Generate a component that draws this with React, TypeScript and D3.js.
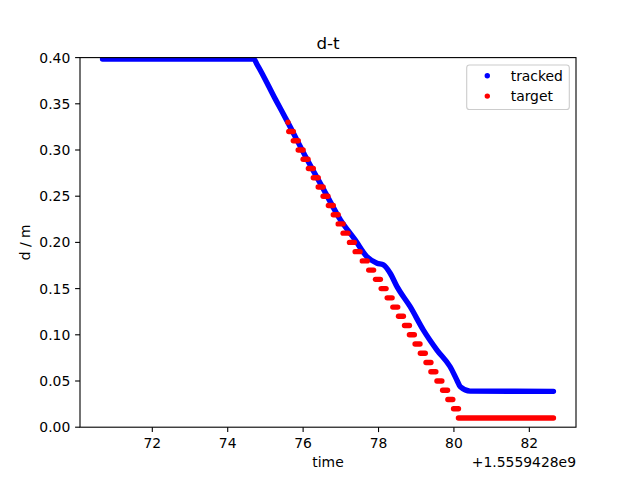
import React from "react";
import * as d3 from "d3";

// ---- data ----
const trackedT = [70.68, 74.69, 74.78, 75.27, 75.58, 76.11, 76.55, 76.99, 77.38, 77.69, 77.96, 78.13, 78.31, 78.49, 78.84, 79.19, 79.55, 79.90, 80.08, 80.17, 80.43, 82.64];
const trackedD = [0.3984, 0.3984, 0.3925, 0.3545, 0.3310, 0.2894, 0.2569, 0.2244, 0.2027, 0.1846, 0.1775, 0.1756, 0.1666, 0.1521, 0.1304, 0.1051, 0.0835, 0.0654, 0.0509, 0.0437, 0.0390, 0.0388];

const targetD = [0.33, 0.32, 0.31, 0.30, 0.29, 0.28, 0.27, 0.26, 0.25, 0.24, 0.23, 0.22, 0.21, 0.20, 0.19, 0.18, 0.17, 0.16, 0.15, 0.14, 0.13, 0.12, 0.11, 0.10, 0.09, 0.08, 0.07, 0.06, 0.05, 0.04, 0.03, 0.02, 0.01];
const targetStart = [75.597, 75.62, 75.74, 75.87, 76.00, 76.14, 76.27, 76.40, 76.53, 76.67, 76.80, 76.93, 77.06, 77.23, 77.38, 77.57, 77.74, 77.92, 78.07, 78.23, 78.38, 78.53, 78.69, 78.82, 78.97, 79.11, 79.26, 79.39, 79.55, 79.70, 79.84, 79.99, 80.12];
const targetEnd = [75.597, 75.74, 75.87, 76.00, 76.13, 76.27, 76.40, 76.53, 76.66, 76.80, 76.93, 77.06, 77.19, 77.36, 77.51, 77.70, 77.87, 78.05, 78.20, 78.36, 78.51, 78.66, 78.82, 78.95, 79.10, 79.24, 79.39, 79.52, 79.68, 79.83, 79.97, 80.12, 82.64];

const xTicks = [72, 74, 76, 78, 80, 82];
const yTicks = [0.0, 0.05, 0.1, 0.15, 0.2, 0.25, 0.3, 0.35, 0.4];
const legendLabels = ["tracked", "target"];
const title = "d-t";
const xLabel = "time";
const yLabel = "d / m";
const offsetText = "+1.5559428e9";

const W = 640, H = 480;
const L = 80, R = 576, T = 57.6, B = 427.2;
const FONT = "DejaVu Sans, sans-serif";

export default function App() {
  const tMin = trackedT[0], tMax = trackedT[trackedT.length - 1];
  const span = tMax - tMin;
  const x = d3.scaleLinear().domain([tMin - 0.05 * span, tMax + 0.05 * span]).range([L, R]);
  const y = d3.scaleLinear().domain([0, 0.4]).range([B, T]);

  const trackedPts: [number, number][] = trackedT.map((t, i) => [t, trackedD[i]]);
  const line = d3.line<[number, number]>().x(d => x(d[0])).y(d => y(d[1])).curve(d3.curveMonotoneX);
  const fmt = d3.format(".2f");

  return (
    <svg width={W} height={H} style={{ position: "absolute", left: 0, top: 0, display: "block", background: "#fff" }} fontFamily={FONT}>
      <defs>
        <clipPath id="plotclip">
          <rect x={L} y={T} width={R - L} height={B - T} />
        </clipPath>
      </defs>
      <rect x={0} y={0} width={W} height={H} fill="#fff" />
      <g clipPath="url(#plotclip)">
        <path d={line(trackedPts) || ""} fill="none" stroke="#0000ff" strokeWidth={5.4} strokeLinecap="round" strokeLinejoin="round" />
        {targetD.map((v, i) => (
          <line key={i} x1={x(targetStart[i])} x2={x(targetEnd[i])} y1={y(v)} y2={y(v)}
            stroke="#ff0000" strokeWidth={5.4} strokeLinecap="round" />
        ))}
      </g>
      {/* spines */}
      <rect x={L} y={T} width={R - L} height={B - T} fill="none" stroke="#000" strokeWidth={1.1} />
      {/* x ticks */}
      {xTicks.map(t => (
        <g key={t}>
          <line x1={x(t)} x2={x(t)} y1={B} y2={B + 4.9} stroke="#000" strokeWidth={1.1} />
          <text x={x(t)} y={448} textAnchor="middle" fontSize={13.9} fill="#000">{t}</text>
        </g>
      ))}
      {/* y ticks */}
      {yTicks.map(v => (
        <g key={v}>
          <line x1={L - 4.9} x2={L} y1={y(v)} y2={y(v)} stroke="#000" strokeWidth={1.1} />
          <text x={70.3} y={y(v) + 5} textAnchor="end" fontSize={13.9} fill="#000">{fmt(v)}</text>
        </g>
      ))}
      <text x={(L + R) / 2} y={467} textAnchor="middle" fontSize={13.9} fill="#000">{xLabel}</text>
      <text x={R} y={467} textAnchor="end" fontSize={13.9} fill="#000">{offsetText}</text>
      <text transform={`translate(30,${(T + B) / 2}) rotate(-90)`} textAnchor="middle" fontSize={13.9} fill="#000">{yLabel}</text>
      <text x={(L + R) / 2} y={49.3} textAnchor="middle" fontSize={16.7} fill="#000">{title}</text>
      {/* legend */}
      <rect x={466.7} y={65} width={102.6} height={44.5} rx={2.8} fill="#fff" fillOpacity={0.8} stroke="#cccccc" strokeWidth={1.1} />
      {legendLabels.map((lab, i) => (
        <g key={lab}>
          <circle cx={487.3} cy={75.8 + i * 20.3} r={2.7} fill={i === 0 ? "#0000ff" : "#ff0000"} />
          <text x={510.7} y={80.6 + i * 20.3} fontSize={13.9} fill="#000">{lab}</text>
        </g>
      ))}
    </svg>
  );
}
